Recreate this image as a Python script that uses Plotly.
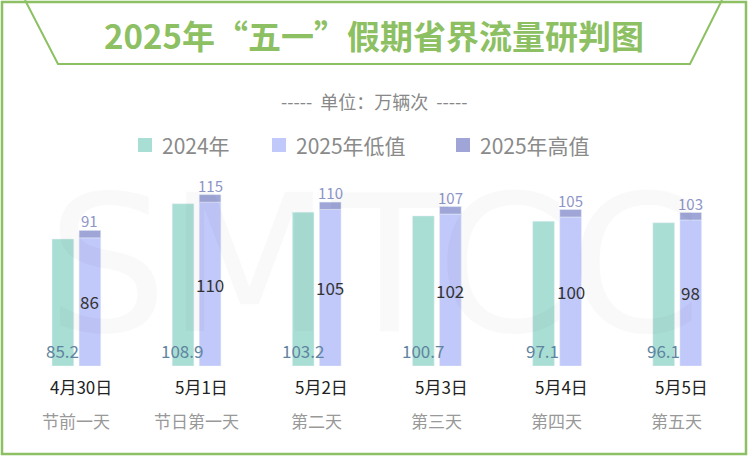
import plotly.graph_objects as go

dates = ["4月30日", "5月1日", "5月2日", "5月3日", "5月4日", "5月5日"]
subs = ["节前一天", "节日第一天", "第二天", "第三天", "第四天", "第五天"]
v2024 = [85.2, 108.9, 103.2, 100.7, 97.1, 96.1]
low2025 = [86, 110, 105, 102, 100, 98]
high2025 = [91, 115, 110, 107, 105, 103]

W, H = 748, 456
C24, CLO, CHI, GREEN = "#a9ded4", "#c1c8fa", "#9fa6d7", "#8cc063"
FONT = "Noto Sans CJK SC"
x = list(range(len(dates)))
bw = 0.18
fig = go.Figure()
fig.add_bar(x=x, y=v2024, width=bw, offset=-0.2, marker_color=C24, hoverinfo="skip")
fig.add_bar(x=x, y=low2025, width=bw, offset=0.025, marker_color=CLO, hoverinfo="skip")
fig.add_bar(x=x, y=[h - l for h, l in zip(high2025, low2025)], base=low2025, width=bw,
            offset=0.025, marker_color=CHI, hoverinfo="skip")

def A(**k):
    k.setdefault("showarrow", False)
    k.setdefault("xanchor", "center")
    k.setdefault("yanchor", "middle")
    return k

ann = []
for i in x:
    ann.append(A(x=i - 0.115, y=1 - 350 / H, text=f"{v2024[i]}", xref="x", yref="paper",
                 font=dict(size=17, color="#5f84a0", family=FONT)))
    ann.append(A(x=i + 0.115, y=low2025[i] / 2, text=str(low2025[i]), xref="x", yref="y",
                 font=dict(size=17, color="#333", family=FONT)))
    ann.append(A(x=i + 0.115, y=high2025[i], text=str(high2025[i]), xref="x", yref="y",
                 yanchor="bottom", yshift=-3, font=dict(size=15, color="#8e95c8", family=FONT)))
    ann.append(A(x=i + 0.04, y=1 - 386 / H, text=dates[i], xref="x", yref="paper",
                 font=dict(size=17, color="#222", family=FONT)))
    ann.append(A(x=i, y=1 - 420 / H, text=subs[i], xref="x", yref="paper",
                 font=dict(size=17, color="#999", family=FONT)))

ann.append(A(x=0.5, y=1 - 35 / H, xref="paper", yref="paper",
             text="<b>2025年“五一”假期省界流量研判图</b>",
             font=dict(size=33, color=GREEN, family=FONT)))
ann.append(A(x=0.5, y=1 - 101 / H, xref="paper", yref="paper",
             text="-----  单位：万辆次  -----", font=dict(size=18, color="#888", family=FONT)))
ann.append(A(x=0.5, y=1 - 265 / H, xref="paper", yref="paper",
             text="SMTCC", font=dict(size=190, color="rgba(0,0,0,0.025)", family="DejaVu Sans")))
shapes = [
    dict(type="rect", xref="paper", yref="paper", x0=2 / W, x1=1 - 2 / W, y0=2 / H, y1=1 - 2 / H,
         line=dict(color=GREEN, width=2.5), layer="below"),
    dict(type="path", xref="paper", yref="paper",
         path=f"M {25/W},{1} L {58/W},{1-64/H} L {690/W},{1-64/H} L {722/W},{1}",
         line=dict(color=GREEN, width=2)),
]
legend = [(C24, "2024年", 138), (CLO, "2025年低值", 272), (CHI, "2025年高值", 456)]
for c, t, px in legend:
    shapes.append(dict(type="rect", xref="paper", yref="paper", x0=px / W, x1=(px + 14) / W,
                       y0=1 - 152 / H, y1=1 - 138 / H, fillcolor=c, line_width=0))
    ann.append(A(x=(px + 22) / W, y=1 - 145 / H, xref="paper", yref="paper",
                 xanchor="left", text=t, font=dict(size=21, color="#8a8a8a", family=FONT)))

fig.update_layout(width=W, height=H, margin=dict(l=0, r=0, t=0, b=0), barmode="overlay",
                  showlegend=False, plot_bgcolor="white", paper_bgcolor="white",
                  annotations=ann, shapes=shapes,
                  xaxis=dict(range=[-0.5, 5.5], domain=[16 / W, 737 / W], visible=False),
                  yaxis=dict(range=[0, 366 / 1.49], domain=[90 / H, 1], visible=False))
fig.write_html("out.html", config={"displayModeBar": False},
               post_script="document.body.style.margin='0';document.body.style.overflow='hidden';")
